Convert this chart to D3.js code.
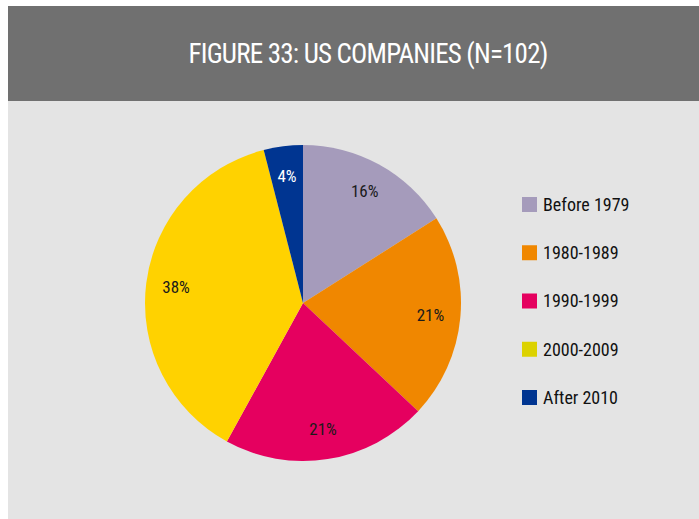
<!DOCTYPE html>
<html>
<head>
<meta charset="utf-8">
<script src="https://cdn.jsdelivr.net/npm/d3@7"></script>
<style>
  body { margin: 0; background: #fff; }
  text { font-family: "Liberation Sans Narrow", "Roboto Condensed", "Arial Narrow", sans-serif; }
</style>
</head>
<body>
<div id="chart"></div>
<script>
const categories = ["Before 1979", "1980-1989", "1990-1999", "2000-2009", "After 2010"]
const shares = [16, 21, 21, 38, 4]
const sliceColours = ["#a59bbb", "#f08700", "#e5005f", "#ffd200", "#003591"]
const legendColours = ["#a59bbb", "#f08700", "#e5005f", "#dcd200", "#003591"]
const labelColours = ["#1a1a1a", "#1a1a1a", "#1a1a1a", "#1a1a1a", "#fff"]
const title = "FIGURE 33: US COMPANIES (N=102)"

const width = 699
const height = 519

let svg = d3.select("#chart")
  .append("svg")
  .attr("width", width)
  .attr("height", height)

// panel + header band
svg.append("rect")
  .attr("x", 8).attr("y", 6)
  .attr("width", width - 8).attr("height", height - 6)
  .attr("fill", "#e4e4e4")

svg.append("rect")
  .attr("x", 8).attr("y", 6)
  .attr("width", width - 8).attr("height", 95)
  .attr("fill", "#707070")

svg.append("text")
  .attr("x", 368).attr("y", 63)
  .attr("text-anchor", "middle")
  .attr("fill", "#fff")
  .attr("font-size", 27)
  .attr("letter-spacing", -0.8)
  .text(title)

// pie
let radius = 158
let pieGenerator = d3.pie().sort(null)
let arcData = pieGenerator(shares)

let arcGenerator = d3.arc()
  .innerRadius(0)
  .outerRadius(radius)

let labelArc = d3.arc()
  .innerRadius(128)
  .outerRadius(128)

let pie = svg.append("g")
  .attr("transform", "translate(303,303)")

pie.selectAll("path")
  .data(arcData)
  .enter()
  .append("path")
  .attr("d", arcGenerator)
  .attr("fill", (d, i) => sliceColours[i])

pie.selectAll("text")
  .data(arcData)
  .enter()
  .append("text")
  .attr("transform", d => "translate(" + labelArc.centroid(d) + ")")
  .attr("dy", "0.35em")
  .attr("text-anchor", "middle")
  .attr("font-size", 17)
  .attr("fill", (d, i) => labelColours[i])
  .text(d => d.data + "%")

// legend
let legendY = d3.scalePoint()
  .domain(categories)
  .range([204.5, 397.5])

let legend = svg.append("g")
  .selectAll("g")
  .data(categories)
  .enter()
  .append("g")
  .attr("transform", d => "translate(522," + legendY(d) + ")")

legend.append("rect")
  .attr("x", 0).attr("y", -7.5)
  .attr("width", 15).attr("height", 15)
  .attr("fill", (d, i) => legendColours[i])

legend.append("text")
  .attr("x", 21)
  .attr("dy", "0.35em")
  .attr("font-size", 18)
  .attr("fill", "#111")
  .text(d => d)
</script>
</body>
</html>
